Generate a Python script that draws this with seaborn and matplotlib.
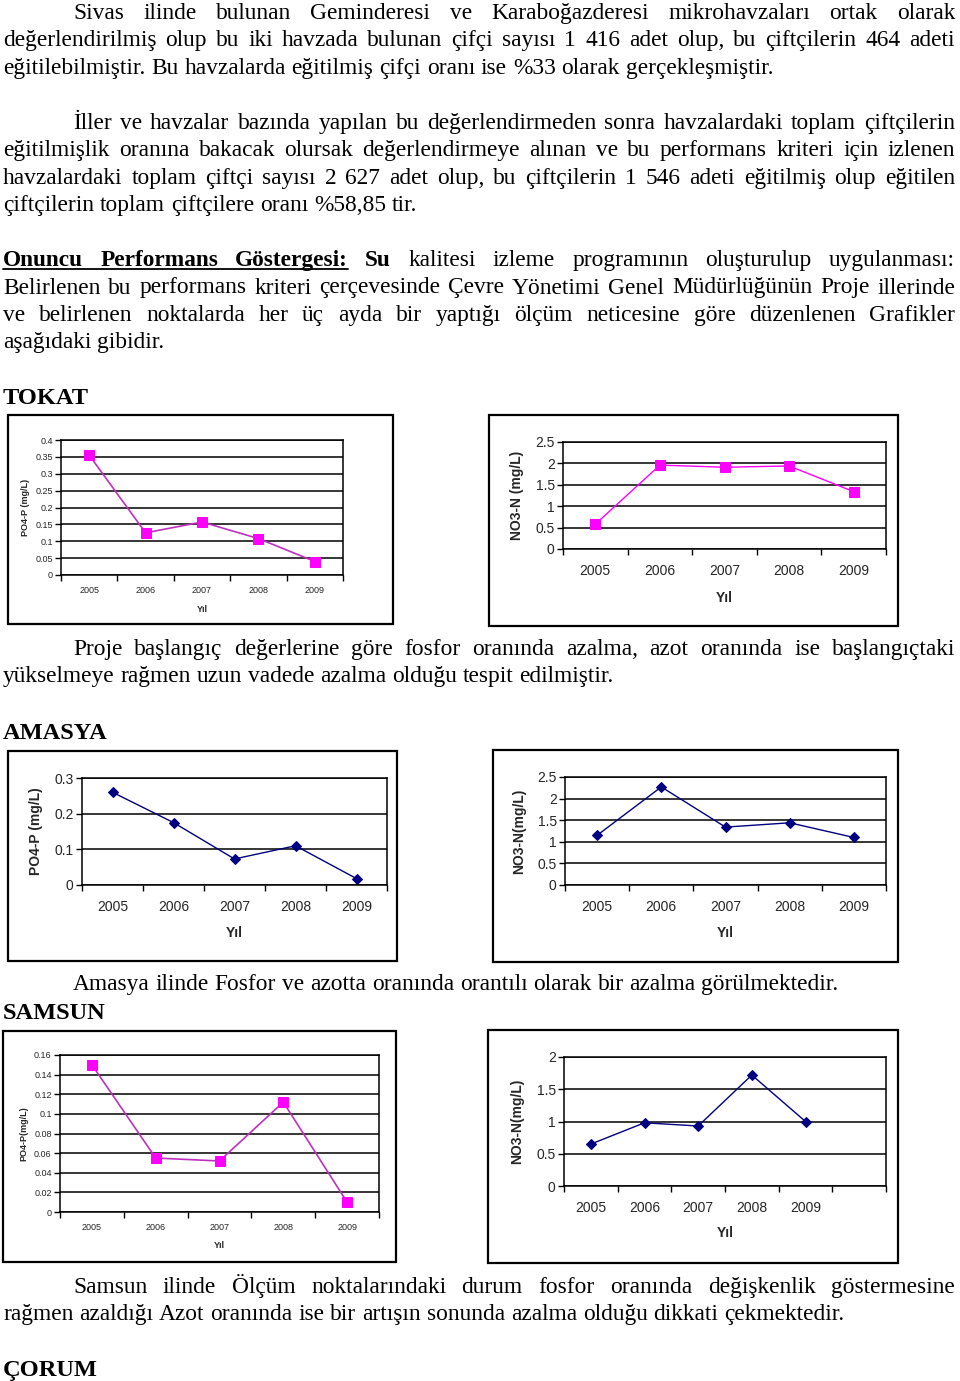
import matplotlib
matplotlib.use("Agg")
import matplotlib.pyplot as plt
import seaborn as sns
from matplotlib.patches import Rectangle
from matplotlib.lines import Line2D
from matplotlib.ticker import FuncFormatter, MultipleLocator, FixedLocator

# ================================
# Data
# ================================
years = ["2005", "2006", "2007", "2008", "2009"]

tokat_po4 = [0.355, 0.125, 0.157, 0.108, 0.040]
tokat_no3 = [0.58, 1.96, 1.91, 1.94, 1.34]

amasya_po4 = [0.260, 0.175, 0.073, 0.110, 0.018]
amasya_no3 = [1.15, 2.27, 1.34, 1.44, 1.10]

samsun_po4 = [0.150, 0.055, 0.052, 0.112, 0.010]
samsun_no3 = [0.65, 0.98, 0.93, 1.72, 1.00]

# ================================
# Page setup
# ================================
W, H = 960, 1381
sns.set_theme(style="white")
plt.rcParams["font.family"] = ["Liberation Sans", "DejaVu Sans"]
fig = plt.figure(figsize=(W / 100, H / 100), dpi=100)
fig.patch.set_facecolor("white")
renderer = fig.canvas.get_renderer()

SERIF = ["Liberation Serif", "DejaVu Serif"]
SANS = ["Liberation Sans", "DejaVu Sans"]


def fx(x):
    return x / W


def fy(y):
    return 1 - y / H


def text_width(s, size, weight="normal"):
    t = fig.text(0, 0, s, fontsize=size, fontweight=weight, family=SERIF)
    w = t.get_window_extent(renderer).width
    t.remove()
    return w


# fit the body size so that a known line has the width seen in the page
BODY = 14 * 772 / text_width(
    "eğitilebilmiştir. Bu havzalarda eğitilmiş çifçi oranı ise %33 olarak gerçekleşmiştir.", 14)
HEAD = 16 * 86 / text_width("TOKAT", 16, "bold")


def put_line(words, y, x0=3, x1=955, justify=True, size=None):
    size = size or BODY
    arts, widths = [], []
    for w in words:
        if isinstance(w, tuple):
            s, wt = w
        else:
            s, wt = w, "normal"
        t = fig.text(0, fy(y), s, fontsize=size, fontweight=wt, family=SERIF,
                     va="baseline", ha="left", color="black")
        arts.append(t)
        widths.append(t.get_window_extent(renderer).width)
    if justify and len(arts) > 1:
        gap = (x1 - x0 - sum(widths)) / (len(arts) - 1)
    else:
        gap = text_width("a a", size) - text_width("aa", size)
    x = x0
    spans = []
    for t, w in zip(arts, widths):
        t.set_x(fx(x))
        spans.append((x, x + w))
        x += w + gap
    return spans


def paragraph(lines, y0, step=27.4, indent=73):
    for i, ln in enumerate(lines):
        last = i == len(lines) - 1
        put_line(ln.split() if isinstance(ln, str) else ln, y0 + i * step,
                 x0=indent if i == 0 else 3, justify=not last)


# ================================
# Text
# ================================
paragraph([
    "Sivas ilinde bulunan Geminderesi ve Karaboğazderesi mikrohavzaları ortak olarak",
    "değerlendirilmiş olup bu iki havzada bulunan çifçi sayısı 1 416 adet olup, bu çiftçilerin 464 adeti",
    "eğitilebilmiştir. Bu havzalarda eğitilmiş çifçi oranı ise %33 olarak gerçekleşmiştir.",
], 19)

paragraph([
    "İller ve havzalar bazında yapılan bu değerlendirmeden sonra havzalardaki toplam çiftçilerin",
    "eğitilmişlik oranına bakacak olursak değerlendirmeye alınan ve bu performans kriteri için izlenen",
    "havzalardaki toplam çiftçi sayısı 2 627 adet olup, bu çiftçilerin 1 546 adeti eğitilmiş olup eğitilen",
    "çiftçilerin toplam çiftçilere oranı %58,85 tir.",
], 129)

first = [("Onuncu", "bold"), ("Performans", "bold"), ("Göstergesi:", "bold"), ("Su", "bold")] + \
    "kalitesi izleme programının oluşturulup uygulanması:".split()
spans = put_line(first, 266, x0=3)
fig.add_artist(Line2D([fx(spans[0][0]), fx(spans[2][1])], [fy(269), fy(269)],
                      color="black", lw=1.3, transform=fig.transFigure))
for i, ln in enumerate([
    "Belirlenen bu performans kriteri çerçevesinde Çevre Yönetimi Genel Müdürlüğünün Proje illerinde",
    "ve belirlenen noktalarda her üç ayda bir yaptığı ölçüm neticesine göre düzenlenen Grafikler",
    "aşağıdaki gibidir.",
]):
    put_line(ln.split(), 293.5 + i * 27.4, x0=3, justify=(i < 2))

put_line([("TOKAT", "bold")], 404, justify=False, size=HEAD)
paragraph([
    "Proje başlangıç değerlerine göre fosfor oranında azalma, azot oranında ise başlangıçtaki",
    "yükselmeye rağmen uzun vadede azalma olduğu tespit edilmiştir.",
], 655)
put_line([("AMASYA", "bold")], 739, justify=False, size=HEAD)
put_line("Amasya ilinde Fosfor ve azotta oranında orantılı olarak bir azalma görülmektedir.".split(),
         990, x0=73, justify=False)
put_line([("SAMSUN", "bold")], 1019, justify=False, size=HEAD)
paragraph([
    "Samsun ilinde Ölçüm noktalarındaki durum fosfor oranında değişkenlik göstermesine",
    "rağmen azaldığı Azot oranında ise bir artışın sonunda azalma olduğu dikkati çekmektedir.",
], 1293)
put_line([("ÇORUM", "bold")], 1376, justify=False, size=HEAD)

# ================================
# Charts
# ================================
MAG, PURP, NAVY = "#FF00FF", "#C030C0", "#000080"

charts = [
    dict(vals=tokat_po4, frame=(8, 415, 393, 624), ax=(61, 440, 343, 575),
         color=MAG, line=PURP, marker="s", ms=7, lw=1.2, fs=6.5, top=0.4, step=0.05,
         ylabel="PO4-P (mg/L)", ylx=25, xly=609, slots=5),
    dict(vals=tokat_no3, frame=(489, 415, 898, 626), ax=(563, 442, 886, 549),
         color=MAG, line=MAG, marker="s", ms=6.5, lw=1.0, fs=10, top=2.5, step=0.5,
         ylabel="NO3-N (mg/L)", ylx=517, xly=598, slots=5),
    dict(vals=amasya_po4, frame=(8, 751, 397, 961), ax=(82, 778, 387, 885),
         color=NAVY, line=NAVY, marker="D", ms=5, lw=1.0, fs=10, top=0.3, step=0.1,
         ylabel="PO4-P (mg/L)", ylx=36, xly=933, slots=5),
    dict(vals=amasya_no3, frame=(493, 750, 898, 962), ax=(565, 777, 886, 885),
         color=NAVY, line=NAVY, marker="D", ms=5, lw=1.0, fs=10, top=2.5, step=0.5,
         ylabel="NO3-N(mg/L)", ylx=519, xly=933, slots=5),
    dict(vals=samsun_po4, frame=(3, 1031, 396, 1262), ax=(60, 1055, 379, 1212),
         color=MAG, line=PURP, marker="s", ms=7, lw=1.2, fs=6.5, top=0.16, step=0.02,
         ylabel="PO4-P(mg/L)", ylx=24, xly=1246, slots=5),
    dict(vals=samsun_no3, frame=(488, 1030, 898, 1263), ax=(564, 1057, 886, 1186),
         color=NAVY, line=NAVY, marker="D", ms=5, lw=1.0, fs=10, top=2.0, step=0.5,
         ylabel="NO3-N(mg/L)", ylx=517, xly=1233, slots=6),
]

for c in charts:
    l, t, r, b = c["frame"]
    fig.add_artist(Rectangle((fx(l), fy(b)), (r - l) / W, (b - t) / H, fill=False,
                             edgecolor="black", lw=1.6, transform=fig.transFigure))
    l, t, r, b = c["ax"]
    ax = fig.add_axes([fx(l), fy(b), (r - l) / W, (b - t) / H])
    ax.set_facecolor("white")
    pos = list(range(len(c["vals"])))
    sns.lineplot(x=pos, y=c["vals"], ax=ax, color=c["line"], lw=c["lw"], marker=c["marker"],
                 markersize=c["ms"], markerfacecolor=c["color"], markeredgecolor=c["color"])
    n = c["slots"]
    ax.set_xlim(-0.5, n - 0.5)
    ax.set_ylim(0, c["top"])
    ax.yaxis.set_major_locator(MultipleLocator(c["step"]))
    ax.yaxis.set_major_formatter(FuncFormatter(lambda v, p: "{:g}".format(round(v, 4))))
    ax.grid(axis="y", color="black", lw=1.1)
    ax.grid(axis="x", visible=False)
    ax.xaxis.set_major_locator(FixedLocator([i - 0.5 for i in range(n + 1)]))
    ax.xaxis.set_major_formatter(FuncFormatter(lambda v, p: ""))
    ax.xaxis.set_minor_locator(FixedLocator(pos))
    ax.set_xticks(pos, minor=True)
    ax.set_xticklabels(years, minor=True)
    ax.tick_params(axis="x", which="major", length=4, width=1, color="black", direction="out",
                   bottom=True)
    ax.tick_params(axis="x", which="minor", length=0, labelsize=c["fs"],
                   pad=c["fs"] * 0.9 + 2)
    ax.tick_params(axis="y", length=4, width=1, color="black", direction="out", left=True,
                   labelsize=c["fs"], pad=2)
    for s in ax.spines.values():
        s.set_color("black")
        s.set_linewidth(1.1)
    ax.set_ylabel(c["ylabel"], fontsize=c["fs"], fontweight="bold")
    ax.yaxis.set_label_coords((c["ylx"] - l) / (r - l), 0.5)
    ax.set_xlabel("Yıl", fontsize=c["fs"], fontweight="bold")
    ax.xaxis.set_label_coords(0.5, (b - c["xly"]) / (b - t))
    ax.xaxis.label.set_va("center")
    ax.yaxis.label.set_va("center")

fig.savefig("out.png", dpi=100, facecolor="white")
